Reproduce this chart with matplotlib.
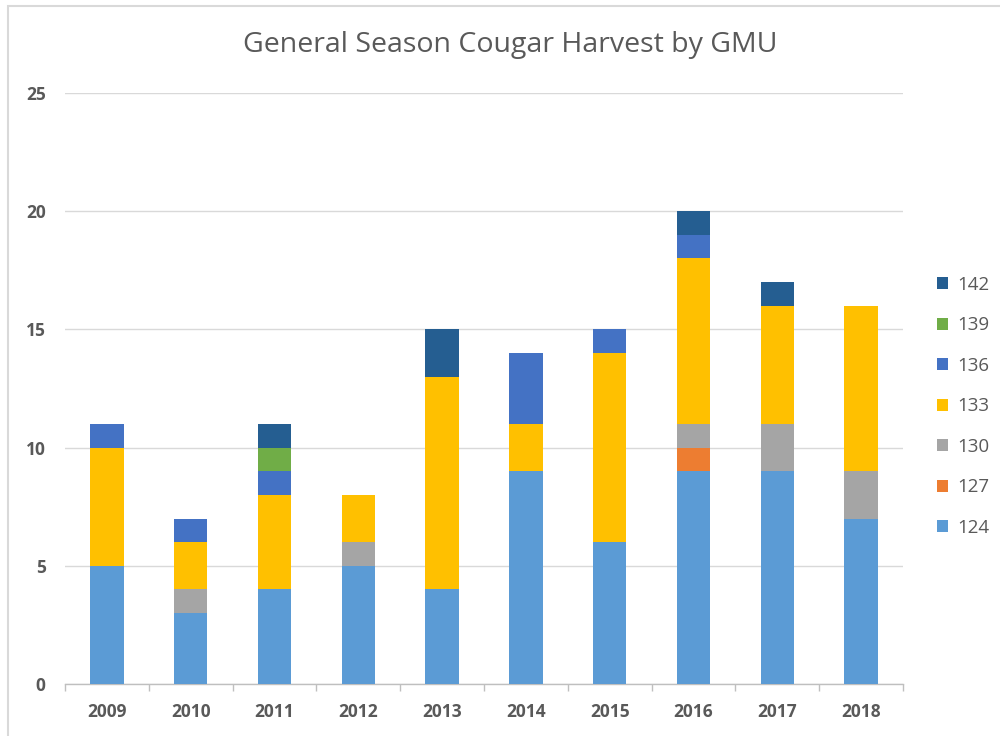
import matplotlib
matplotlib.use('Agg')
import matplotlib.pyplot as plt
from matplotlib.patches import Rectangle
import numpy as np

plt.rcParams['font.family'] = ['Open Sans', 'DejaVu Sans']

years = ['2009', '2010', '2011', '2012', '2013', '2014', '2015', '2016', '2017', '2018']
gmu = ['124', '127', '130', '133', '136', '139', '142']
h124 = [5, 3, 4, 5, 4, 9, 6, 9, 9, 7]
h127 = [0, 0, 0, 0, 0, 0, 0, 1, 0, 0]
h130 = [0, 1, 0, 1, 0, 0, 0, 1, 2, 2]
h133 = [5, 2, 4, 2, 9, 2, 8, 7, 5, 7]
h136 = [1, 1, 1, 0, 0, 3, 1, 1, 0, 0]
h139 = [0, 0, 1, 0, 0, 0, 0, 0, 0, 0]
h142 = [0, 0, 1, 0, 2, 0, 0, 1, 1, 0]
colors = ['#5B9BD5', '#ED7D31', '#A5A5A5', '#FFC000', '#4472C4', '#70AD47', '#255E91']

series = [h124, h127, h130, h133, h136, h139, h142]

fig = plt.figure(figsize=(10, 7.36), dpi=100)
ax = fig.add_axes([0.065, 0.0707, 0.838, 0.8029])

# chart frame
fig.patches.append(Rectangle((0.008, -0.1), 1.2, 1.092, transform=fig.transFigure,
                             fill=False, edgecolor='#D9D9D9', linewidth=1.5))

x = np.arange(len(years))
bottom = np.zeros(len(years))
handles = []
for name, vals, c in zip(gmu, series, colors):
    b = ax.bar(x, vals, width=0.4, bottom=bottom, color=c, label=name, zorder=3)
    handles.append(b)
    bottom += np.array(vals)

ax.set_xlim(-0.5, len(years) - 0.5)
ax.set_ylim(0, 25)
ax.set_yticks([0, 5, 10, 15, 20, 25])
ax.yaxis.grid(True, color='#D9D9D9', linewidth=1, zorder=0)
for s in ['top', 'right', 'left']:
    ax.spines[s].set_visible(False)
ax.spines['bottom'].set_color('#BFBFBF')
ax.spines['bottom'].set_linewidth(1)
ax.tick_params(axis='y', length=0, pad=14, labelsize=12.5, labelcolor='#595959')
ax.set_xticks(x)
ax.set_xticklabels(years)
ax.tick_params(axis='x', length=0, pad=14, labelsize=12.5, labelcolor='#595959')
for lab in ax.get_xticklabels() + ax.get_yticklabels():
    lab.set_fontweight('bold')
# category boundary ticks
ax.set_xticks(np.arange(-0.5, len(years)), minor=True)
ax.tick_params(axis='x', which='minor', length=5, color='#BFBFBF', width=1)

fig.text(0.51, 1 - 45 / 736, 'General Season Cougar Harvest by GMU', fontsize=20.5,
         color='#595959', ha='center', va='center')

leg = ax.legend(handles[::-1], gmu[::-1], loc='center left', bbox_to_anchor=(1.02, 0.47),
                frameon=False, fontsize=13.5, labelspacing=1.2, handlelength=0.6,
                handleheight=0.6, handletextpad=0.5)
for t in leg.get_texts():
    t.set_color('#595959')

plt.savefig('out.png', dpi=100, facecolor='white')
